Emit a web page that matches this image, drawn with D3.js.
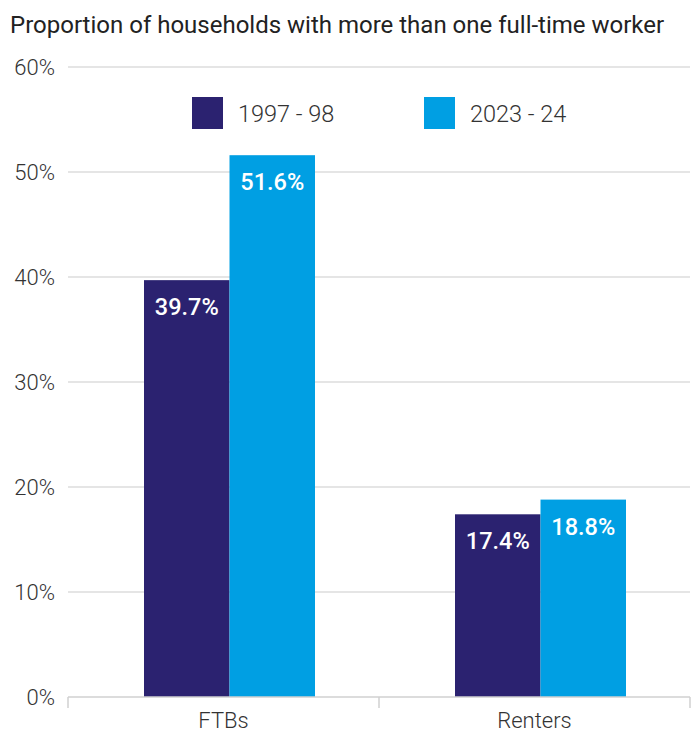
<!DOCTYPE html>
<html>
<head>
<meta charset="utf-8">
<script src="https://cdn.jsdelivr.net/npm/d3@7"></script>
<style>
  body { margin: 0; background: #fff; }
  svg { display: block; font-family: Roboto, "Noto Sans", sans-serif; }
</style>
</head>
<body>
<svg id="chart" width="699" height="733"></svg>
<script>
// Chart data
const categories = ["FTBs", "Renters"];
const seriesNames = ["1997 - 98", "2023 - 24"];
const values1997 = [39.7, 17.4];
const values2023 = [51.6, 18.8];
const yTicks = [0, 10, 20, 30, 40, 50, 60];
const title = "Proportion of households with more than one full-time worker";

const colors = ["#2b2270", "#009fe3"];

const svg = d3.select("#chart");
const plotLeft = 68, plotRight = 690, plotTop = 67, plotBottom = 697;

const y = d3.scaleLinear().domain([0, 60]).range([plotBottom, plotTop]);
const x0 = d3.scaleBand().domain(categories).range([plotLeft, plotRight]);
// Bar group sits within each band
const groupOffset = 76, groupWidth = 171;
const x1 = d3.scaleBand().domain(seriesNames).range([0, groupWidth]);

// Title
svg.append("text")
  .attr("x", 10).attr("y", 33)
  .attr("font-size", 24).attr("fill", "#222")
  .text(title);

// Gridlines
svg.append("g").selectAll("line")
  .data(yTicks.filter(d => d > 0))
  .join("line")
  .attr("x1", plotLeft).attr("x2", plotRight)
  .attr("y1", d => y(d)).attr("y2", d => y(d))
  .attr("stroke", "#dcdcdc").attr("stroke-width", 1.5);

// Y tick labels
svg.append("g").selectAll("text")
  .data(yTicks)
  .join("text")
  .attr("x", 55).attr("y", d => y(d) + 8)
  .attr("text-anchor", "end")
  .attr("font-size", 22).attr("font-weight", 300).attr("fill", "#333")
  .text(d => d + "%");

// Bars
const rows = categories.map((c, i) => ({ cat: c, vals: [values1997[i], values2023[i]] }));
const groups = svg.append("g").selectAll("g")
  .data(rows)
  .join("g")
  .attr("transform", d => `translate(${x0(d.cat) + groupOffset},0)`);

groups.selectAll("rect")
  .data(d => d.vals.map((v, j) => ({ v, s: seriesNames[j], j })))
  .join("rect")
  .attr("x", d => x1(d.s))
  .attr("width", x1.bandwidth())
  .attr("y", d => y(d.v))
  .attr("height", d => y(0) - y(d.v))
  .attr("fill", d => colors[d.j]);

groups.selectAll("text.val")
  .data(d => d.vals.map((v, j) => ({ v, s: seriesNames[j], j })))
  .join("text")
  .attr("class", "val")
  .attr("x", d => x1(d.s) + x1.bandwidth() / 2)
  .attr("y", d => y(d.v) + 35)
  .attr("text-anchor", "middle")
  .attr("font-size", 23.5).attr("font-weight", 500).attr("fill", "#fff")
  .text(d => d.v.toFixed(1) + "%");

// X axis
const axis = svg.append("g");
axis.append("line")
  .attr("x1", plotLeft).attr("x2", plotRight)
  .attr("y1", plotBottom).attr("y2", plotBottom)
  .attr("stroke", "#d0d0d0").attr("stroke-width", 1.5);
const tickXs = [plotLeft].concat(categories.map(c => x0(c) + x0.bandwidth()));
axis.selectAll("line.tick")
  .data(tickXs)
  .join("line")
  .attr("class", "tick")
  .attr("x1", d => d).attr("x2", d => d)
  .attr("y1", plotBottom).attr("y2", plotBottom + 11)
  .attr("stroke", "#d0d0d0").attr("stroke-width", 1.5);
axis.selectAll("text")
  .data(categories)
  .join("text")
  .attr("x", d => x0(d) + x0.bandwidth() / 2)
  .attr("y", 728)
  .attr("text-anchor", "middle")
  .attr("font-size", 22).attr("font-weight", 300).attr("fill", "#333")
  .text(d => d);

// Legend
const legendXs = [192, 424];
const legend = svg.append("g").selectAll("g")
  .data(seriesNames)
  .join("g")
  .attr("transform", (d, i) => `translate(${legendXs[i]},97)`);
legend.append("rect")
  .attr("width", 31).attr("height", 32)
  .attr("fill", (d, i) => colors[i]);
legend.append("text")
  .attr("x", 46).attr("y", 25)
  .attr("font-size", 23.5).attr("font-weight", 300).attr("fill", "#333")
  .text(d => d);
</script>
</body>
</html>
